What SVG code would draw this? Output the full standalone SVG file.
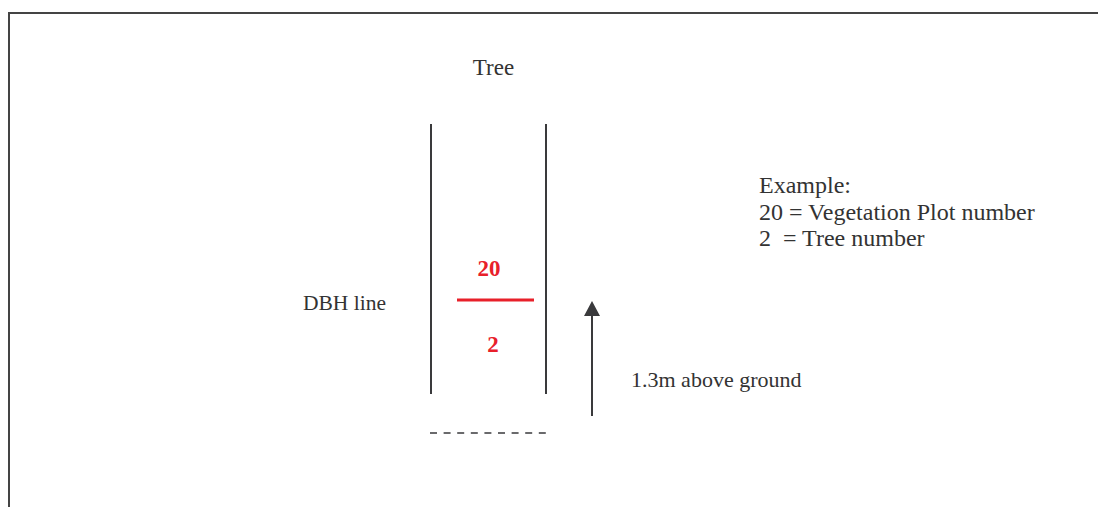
<svg xmlns="http://www.w3.org/2000/svg" width="1098" height="507" viewBox="0 0 1098 507">
<style>
.t{font-family:"Liberation Serif",serif;fill:#333}
.r{font-family:"Liberation Serif",serif;fill:#e8202a;font-weight:bold;font-size:23px}
.ln{stroke:#3a3a3c;stroke-width:2;fill:none}
</style>
<rect width="1098" height="507" fill="#fff"/>
<path d="M9 507V13H1098" fill="none" stroke="#444" stroke-width="2"/>
<g id="tree">
<text class="t" x="493.5" y="75" font-size="23" text-anchor="middle">Tree</text>
<line class="ln" x1="431" y1="124" x2="431" y2="394"/>
<line class="ln" x1="546" y1="124" x2="546" y2="394"/>
</g>
<g id="dbh">
<text class="t" x="303" y="310" font-size="21.5">DBH line</text>
<line x1="457" y1="300" x2="534" y2="300" stroke="#e8202a" stroke-width="3"/>
<text class="r" x="489" y="276" text-anchor="middle">20</text>
<text class="r" x="493" y="352" text-anchor="middle">2</text>
</g>
<g id="ground">
<line x1="430" y1="433" x2="547" y2="433" stroke="#3a3a3c" stroke-width="1.7" stroke-dasharray="7,6.6"/>
</g>
<g id="connectors">
<line class="ln" x1="592" y1="416" x2="592" y2="314"/>
<polygon points="592,301 600,316 584,316" fill="#3a3a3c"/>
</g>
<g id="height">
<text class="t" x="631" y="387" font-size="22">1.3m above ground</text>
</g>
<g id="legend">
<text class="t" x="759" y="193" font-size="24">Example:</text>
<text class="t" x="759" y="220" font-size="24">20 = Vegetation Plot number</text>
<text class="t" x="759" y="246" font-size="24" xml:space="preserve">2  = Tree number</text>
</g>
</svg>
